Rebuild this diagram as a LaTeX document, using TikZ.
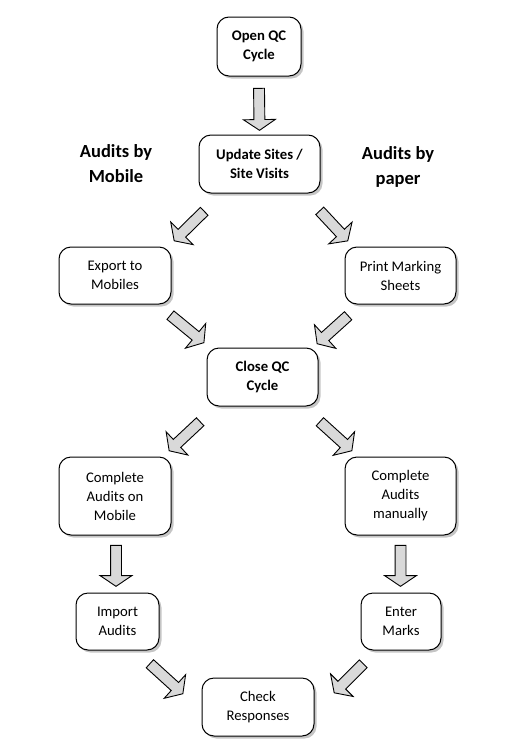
\documentclass[tikz,border=0pt]{standalone}
\usepackage{fontspec}
\setmainfont{Carlito}
\usetikzlibrary{arrows.meta}
\usetikzlibrary{shapes.arrows}
\usetikzlibrary{shadows}
\usetikzlibrary{calc}
\definecolor{arrowfill}{HTML}{D9D9D9}
\tikzset{
    qcbox/.style={draw=black, line width=1pt, fill=white, rounded corners=12pt, align=center,
        inner sep=0pt, font=\fontsize{14.7}{19}\selectfont,
        drop shadow={shadow xshift=2.5pt, shadow yshift=-2.5pt, fill=black!45}},
    qcboldbox/.style={qcbox, font=\fontsize{14.7}{19.5}\selectfont\bfseries},
    qchead/.style={align=center, font=\fontsize{18.5}{25}\selectfont\bfseries},
    qcshape/.style={single arrow, draw=black, fill=arrowfill, line width=0.9pt, inner sep=5pt,
        single arrow head extend=10.5pt, single arrow tip angle=112, anchor=center},
    qcarrow/.style={to path={let \p1=($(\tikztotarget)-(\tikztostart)$),
        \n1={atan2(\y1,\x1)}, \n2={veclen(\x1,\y1)} in
        node[qcshape, rotate=\n1, minimum height=\n2] at ($(\tikztostart)!0.5!(\tikztotarget)$) {}}}
}

\begin{document}
\begin{tikzpicture}[x=1pt, y=-1pt]
    \useasboundingbox (0,0) rectangle (504,747);

    \node[qchead] (mob) at (116,164) {Audits by\\Mobile};
    \node[qchead] (pap) at (398,167) {Audits by\\paper};

    \node[qcboldbox, minimum width=84pt, minimum height=59pt] (open) at (259,46.5) {Open QC\\Cycle};
    \node[qcboldbox, minimum width=121pt, minimum height=58pt] (upd) at (259.5,164) {Update Sites /\\Site Visits};
    \node[qcbox, minimum width=112pt, minimum height=57pt] (exp) at (115,275.5) {Export to\\Mobiles};
    \node[qcbox, minimum width=111pt, minimum height=57pt] (prt) at (400.5,275.5) {Print Marking\\Sheets};
    \node[qcboldbox, minimum width=111pt, minimum height=58pt] (cls) at (262.5,377) {Close QC\\Cycle};
    \node[qcbox, minimum width=112pt, minimum height=78pt] (cmob) at (115,496) {Complete\\Audits on\\Mobile};
    \node[qcbox, minimum width=111pt, minimum height=78pt] (cman) at (400.5,496) {Complete\\Audits\\manually};
    \node[qcbox, minimum width=83pt, minimum height=57pt] (imp) at (117.5,621.5) {Import\\Audits};
    \node[qcbox, minimum width=80pt, minimum height=57pt] (ent) at (401,621.5) {Enter\\Marks};
    \node[qcbox, minimum width=112pt, minimum height=58pt] (chk) at (258,707) {Check\\Responses};

    % block arrows
    \path[qcarrow] ($(open.south)+(0,10)$) to ($(upd.north)+(0,-6)$);
    \path[qcarrow] ($(upd.south west)+(7,16.5)$) to ($(exp.north east)+(4,-7)$);
    \path[qcarrow] ($(upd.south east)+(-2,16)$) to ($(prt.north west)+(2,-7)$);
    \path[qcarrow] ($(exp.south east)+(-2.5,9.5)$) to ($(cls.north west)+(-4,-6)$);
    \path[qcarrow] ($(prt.south west)+(5,10)$) to ($(cls.north east)+(0,-5)$);
    \path[qcarrow] ($(cls.south west)+(-5,14)$) to ($(cmob.north east)+(-1,-7)$);
    \path[qcarrow] ($(cls.south east)+(0,14)$) to ($(cman.north west)+(6,-7)$);
    \path[qcarrow] ($(cmob.south)+(1,8)$) to ($(imp.north)+(-1.5,-8)$);
    \path[qcarrow] ($(cman.south)+(0,8)$) to ($(ent.north)+(-0.5,-8)$);
    \path[qcarrow] ($(imp.south east)+(-11,12)$) to ($(chk.north west)+(-20,15)$);
    \path[qcarrow] ($(ent.south west)+(4,12)$) to ($(chk.north east)+(21,14)$);
\end{tikzpicture}
\end{document}
